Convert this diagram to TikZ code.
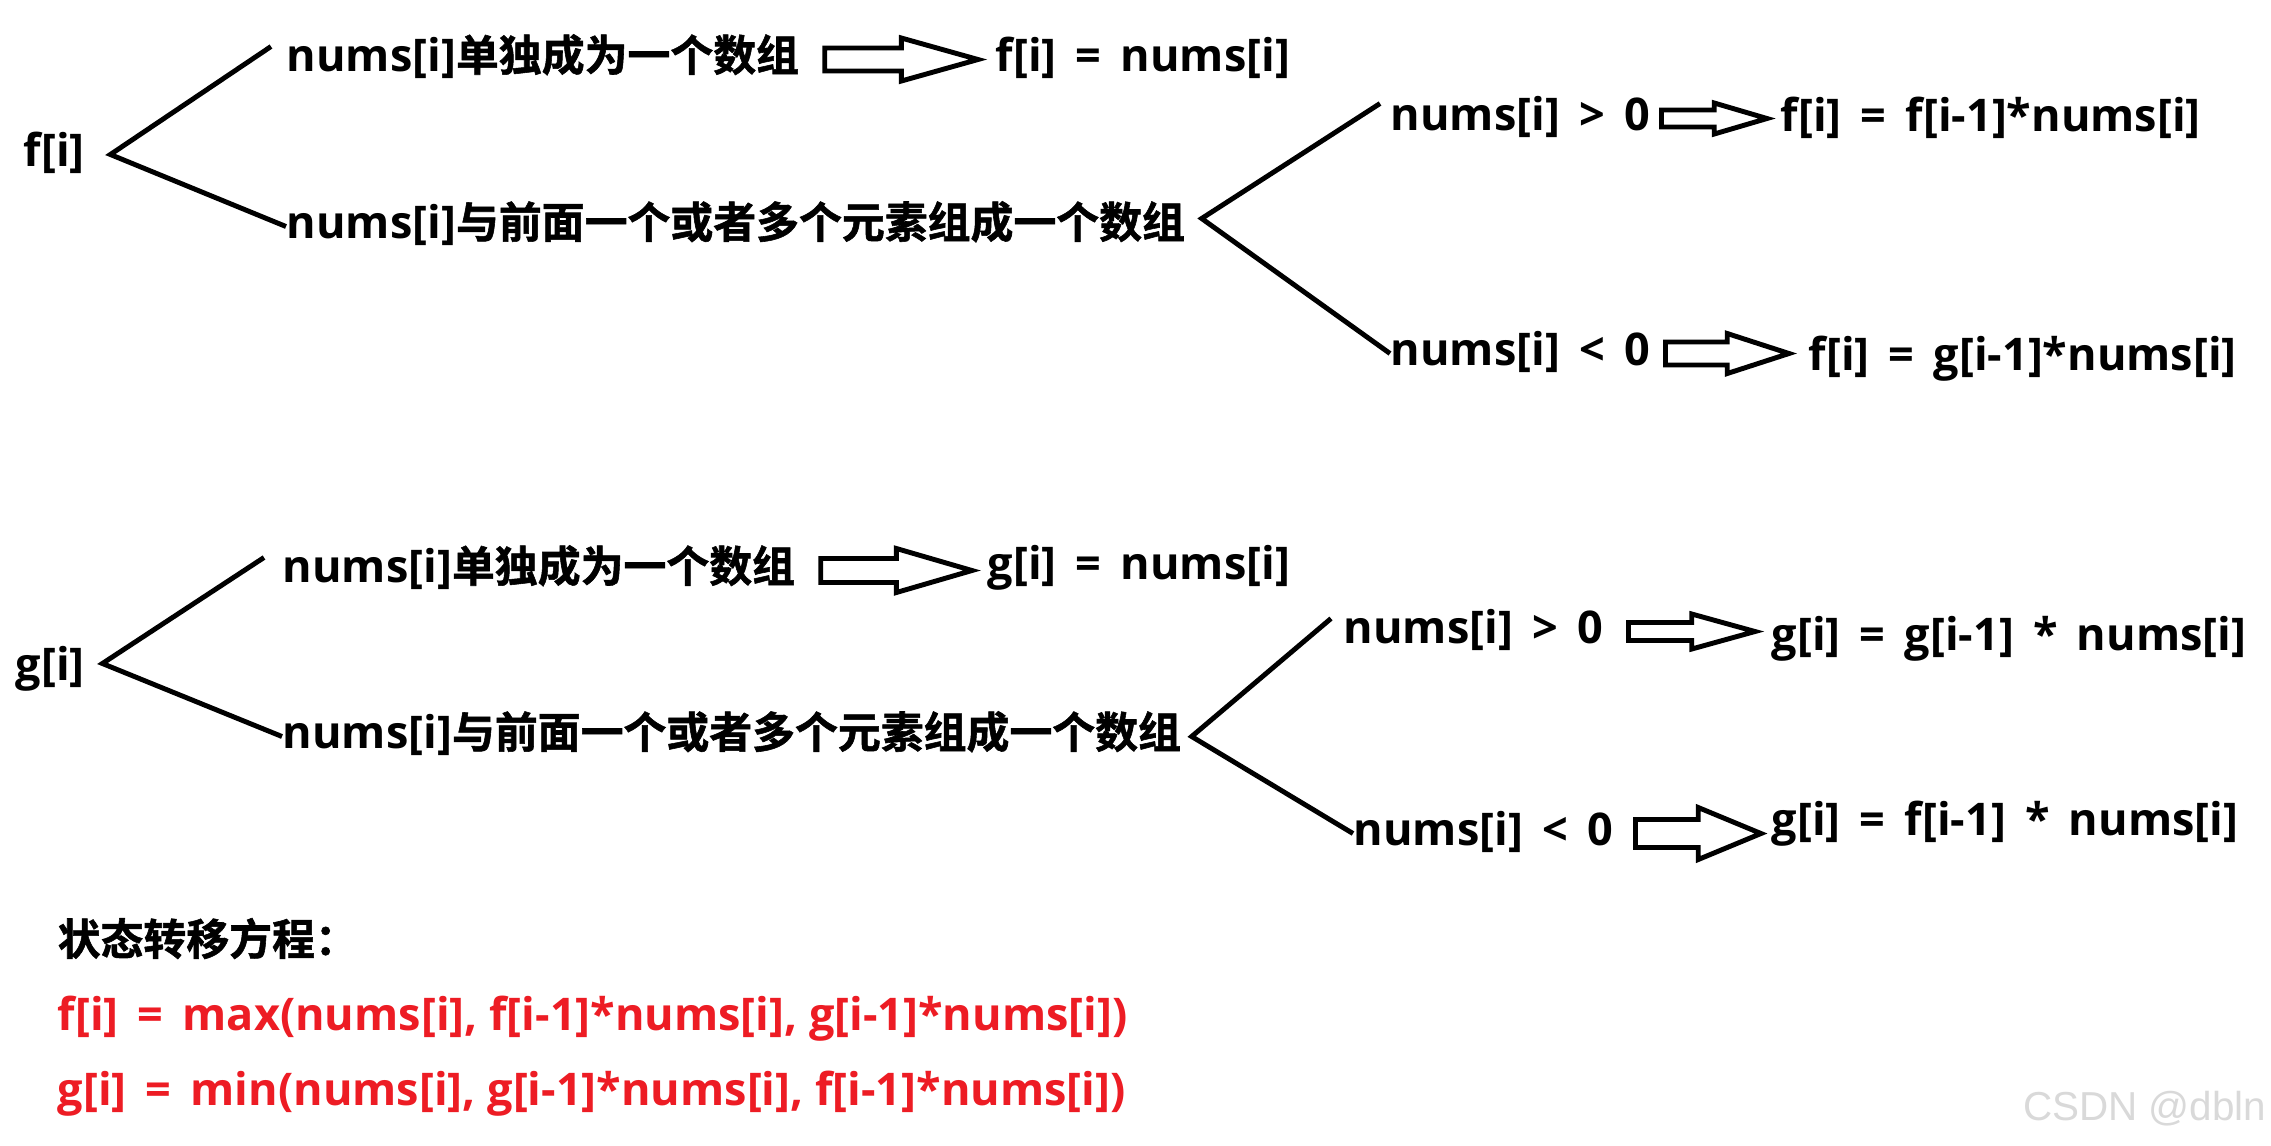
\documentclass[tikz,border=0pt]{standalone}
\usepackage{fontspec}
\setmainfont{Open Sans}[Scale=1.05]
\newfontfamily\zhfont{Noto Sans CJK SC}[BoldFont={* Bold},BoldFeatures={FakeBold=1.3}]
\newfontfamily\wmfont{Liberation Sans}
\usetikzlibrary{calc}
\definecolor{Red}{HTML}{ED1C24}
\newcommand{\zh}[1]{{\zhfont\bfseries #1}}
% hollow block arrow: tail, tip, shaft half width, head half width
\newcommand{\fatarrow}[4]{%
  \draw[fat] let \p1=#1, \p2=#2, \n1={(\x1+\x2)/2} in
    (\x1,{\y1+#3}) -- (\n1,{\y1+#3}) -- (\n1,{\y1+#4}) -- (\x2,\y1)
    -- (\n1,{\y1-#4}) -- (\n1,{\y1-#3}) -- (\x1,{\y1-#3}) -- cycle;}

\begin{document}
\begin{tikzpicture}[
    txt/.style={anchor=base west,inner sep=0pt,text height=0.33cm,text depth=0.1cm,
      font=\fontsize{12.2pt}{14pt}\selectfont\bfseries},
    eqn/.style={txt,text=Red},
    fork/.style={line width=1.4pt,line join=miter},
    fat/.style={draw,fill=white,line width=1.4pt,line join=miter}
  ]
    \useasboundingbox[fill=white] (0,0) rectangle (22.71,-11.45);

    % f[i]
    \node[txt] (fl) at (0.23,-1.66) {f[i]};
    \node[txt] (s1) at (2.86,-0.71) {nums[i]\zh{单独成为一个数组}};
    \node[txt] (r0) at (9.95,-0.71) {f[i] \,=\, nums[i]};
    \node[txt] (s2) at (2.86,-2.38) {nums[i]\zh{与前面一个或者多个元素组成一个数组}};
    \node[txt] (c1) at (13.90,-1.30) {nums[i] \,>\, 0};
    \node[txt] (r1) at (17.80,-1.31) {f[i] \,=\, f[i-1]*nums[i]};
    \node[txt] (c2) at (13.90,-3.65) {nums[i] \,<\, 0};
    \node[txt] (r2) at (18.08,-3.70) {f[i] \,=\, g[i-1]*nums[i]};

    \coordinate (fv) at ([xshift=0.25cm]fl.east);
    \coordinate (fv2) at ([xshift=0.16cm,yshift=0.08cm]s2.east);
    \draw[fork] ([xshift=-0.15cm,yshift=0.13cm]s1.west) -- (fv) -- (s2.west);
    \draw[fork] ([xshift=-0.1cm,yshift=0.15cm]c1.west) -- (fv2) -- (c2.west);

    \fatarrow{([xshift=0.25cm]s1.east)}{([xshift=-0.17cm]r0.west)}{0.115cm}{0.215cm}
    \fatarrow{([xshift=0.11cm]c1.east)}{([xshift=-0.13cm]r1.west)}{0.085cm}{0.155cm}
    \fatarrow{([xshift=0.15cm]c2.east)}{([xshift=-0.19cm]r2.west)}{0.115cm}{0.2cm}

    % g[i]
    \node[txt] (gl) at (0.15,-6.80) {g[i]};
    \node[txt] (s3) at (2.82,-5.82) {nums[i]\zh{单独成为一个数组}};
    \node[txt] (r3) at (9.87,-5.79) {g[i] \,=\, nums[i]};
    \node[txt] (s4) at (2.82,-7.48) {nums[i]\zh{与前面一个或者多个元素组成一个数组}};
    \node[txt] (c3) at (13.43,-6.43) {nums[i] \,>\, 0};
    \node[txt] (r4) at (17.71,-6.50) {g[i] \,=\, g[i-1] \,*\, nums[i]};
    \node[txt] (c4) at (13.53,-8.45) {nums[i] \,<\, 0};
    \node[txt] (r5) at (17.71,-8.35) {g[i] \,=\, f[i-1] \,*\, nums[i]};

    \coordinate (gv) at ([xshift=0.17cm,yshift=0.05cm]gl.east);
    \coordinate (gv2) at ([xshift=0.1cm]s4.east);
    \draw[fork] ([xshift=-0.18cm,yshift=0.13cm]s3.west) -- (gv) -- (s4.west);
    \draw[fork] ([xshift=-0.12cm,yshift=0.13cm]c3.west) -- (gv2) -- (c4.west);

    \fatarrow{([xshift=0.25cm]s3.east)}{([xshift=-0.15cm]r3.west)}{0.12cm}{0.22cm}
    \fatarrow{([xshift=0.25cm]c3.east)}{([xshift=-0.16cm]r4.west)}{0.09cm}{0.175cm}
    \fatarrow{([xshift=0.22cm]c4.east)}{([xshift=-0.1cm]r5.west)}{0.14cm}{0.26cm}

    % transition
    \node[txt] (tt) at (0.57,-9.55) {\zh{状态转移方程：}};
    \node[eqn] (e1) at (0.57,-10.30)
      {f[i] \,=\, max(nums[i], f[i-1]*nums[i], g[i-1]*nums[i])};
    \node[eqn] (e2) at (0.57,-11.05)
      {g[i] \,=\, min(nums[i], g[i-1]*nums[i], f[i-1]*nums[i])};

    \node[anchor=base east,inner sep=0pt,text=gray!30,
      font=\wmfont\fontsize{11.5pt}{13pt}\selectfont] (wm) at (22.67,-11.20) {CSDN @dbln};
  \end{tikzpicture}
\end{document}
